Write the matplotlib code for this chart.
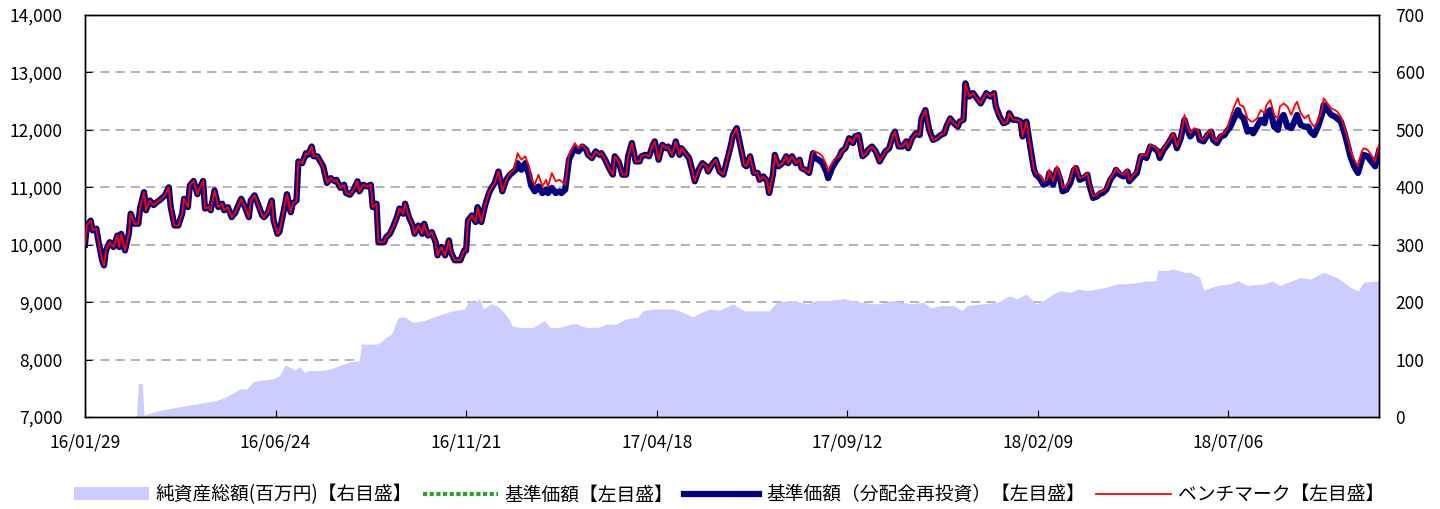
import matplotlib
matplotlib.use('Agg')
import matplotlib.pyplot as plt
from matplotlib.patches import Patch
from matplotlib.lines import Line2D

plt.rcParams['font.family'] = ['Noto Sans CJK JP', 'DejaVu Sans']

# business-day index of each sampled point
days = [
    0, 1, 3, 4, 6, 7, 9, 10, 11, 13,
    15, 17, 18, 19, 21, 23, 24, 26, 28, 29,
    31, 32, 34, 36, 38, 39, 42, 44, 45, 47,
    49, 51, 52, 54, 55, 57, 59, 60, 62, 63,
    65, 66, 68, 70, 72, 73, 75, 77, 79, 80,
    82, 84, 86, 87, 89, 91, 93, 94, 96, 98,
    99, 101, 102, 104, 106, 108, 109, 111, 112, 114,
    116, 117, 119, 120, 122, 123, 125, 127, 129, 131,
    132, 134, 136, 137, 139, 141, 143, 144, 146, 148,
    150, 151, 153, 154, 157, 158, 160, 162, 164, 165,
    167, 168, 170, 172, 173, 175, 177, 178, 180, 182,
    184, 185, 187, 189, 191, 192, 194, 197, 199, 200,
    201, 203, 205, 206, 208, 210, 212, 213, 215, 217,
    219, 221, 223, 225, 226, 227, 229, 231, 233, 234,
    236, 238, 240, 242, 243, 245, 247, 249, 250, 252,
    254, 256, 257, 259, 261, 263, 264, 266, 268, 270,
    271, 273, 275, 277, 278, 280, 282, 284, 285, 287,
    289, 291, 292, 294, 296, 298, 299, 301, 303, 305,
    306, 308, 310, 312, 313, 315, 317, 319, 320, 322,
    324, 326, 327, 329, 331, 333, 335, 337, 339, 340,
    342, 344, 346, 347, 349, 351, 353, 354, 356, 358,
    359, 361, 362, 364, 366, 368, 369, 371, 373, 375,
    376, 378, 380, 382, 383, 385, 387, 389, 390, 392,
    394, 396, 397, 399, 401, 403, 404, 406, 408, 410,
    411, 413, 415, 417, 418, 420, 422, 424, 425, 427,
    429, 431, 432, 434, 436, 438, 439, 441, 443, 445,
    447, 449, 451, 452, 454, 456, 458, 459, 461, 462,
    464, 466, 468, 470, 471, 473, 475, 477, 478, 480,
    482, 484, 485, 487, 489, 491, 492, 494, 496, 498,
    499, 501, 503, 505, 506, 508, 510, 512, 513, 515,
    517, 519, 520, 522, 524, 526, 527, 529, 531, 533,
    534, 536, 538, 540, 541, 543, 545, 547, 548, 550,
    552, 554, 556, 557, 559, 561, 563, 564, 566, 568,
    570, 571, 573, 575, 577, 578, 580, 582, 584, 585,
    587, 589, 591, 592, 594, 596, 598, 599, 601, 603,
    605, 606, 608, 610, 612, 613, 615, 617, 619, 620,
    622, 624, 626, 627, 629, 631, 633, 635, 636, 638,
    640, 642, 643, 645, 647, 649, 650, 652, 654, 656,
    657, 659, 661, 663, 664, 666, 668, 670, 671, 673,
    675, 677, 679,
]

# 基準価額（分配金再投資）
nav_reinv = [
    10000, 10335, 10420, 10250, 10280, 10075, 9730, 9640, 9900, 10045,
    9960, 10160, 9960, 10190, 9900, 10190, 10540, 10365, 10365, 10655,
    10915, 10600, 10770, 10690, 10750, 10770, 10860, 11000, 10655, 10335,
    10335, 10540, 10800, 10655, 11030, 11110, 10880, 10970, 11110, 10630,
    10655, 10600, 10945, 10655, 10715, 10600, 10655, 10480, 10565, 10655,
    10800, 10655, 10480, 10770, 10860, 10690, 10510, 10480, 10565, 10770,
    10420, 10190, 10220, 10540, 10880, 10565, 10715, 10770, 11450, 11420,
    11595, 11565, 11710, 11540, 11540, 11480, 11365, 11075, 11160, 11105,
    11130, 10990, 11045, 10900, 10870, 10960, 11105, 10930, 11045, 11015,
    11045, 10655, 10715, 10045, 10045, 10130, 10190, 10335, 10510, 10630,
    10540, 10715, 10480, 10335, 10190, 10335, 10190, 10365, 10160, 10220,
    10045, 9815, 9960, 9815, 10075, 9875, 9730, 9730, 9900, 9900,
    10420, 10510, 10395, 10655, 10395, 10690, 10900, 10970, 11075, 11275,
    10930, 11130, 11220, 11275, 11305, 11420, 11305, 11420, 11220, 11045,
    10930, 11015, 10900, 10960, 10900, 10990, 10900, 10930, 10900, 10960,
    11480, 11625, 11680, 11625, 11710, 11655, 11565, 11510, 11625, 11565,
    11595, 11480, 11335, 11220, 11540, 11450, 11220, 11220, 11540, 11770,
    11450, 11450, 11540, 11565, 11540, 11740, 11800, 11480, 11740, 11680,
    11710, 11565, 11800, 11565, 11680, 11595, 11510, 11250, 11105, 11305,
    11420, 11365, 11275, 11395, 11480, 11275, 11220, 11480, 11740, 11910,
    12030, 11710, 11395, 11365, 11540, 11250, 11250, 11130, 11190, 11105,
    10900, 11220, 11565, 11365, 11420, 11540, 11420, 11540, 11420, 11480,
    11335, 11305, 11250, 11595, 11510, 11480, 11420, 11275, 11160, 11335,
    11450, 11540, 11625, 11680, 11855, 11770, 11885, 11910, 11540, 11595,
    11655, 11710, 11625, 11450, 11510, 11625, 11680, 11910, 11970, 11710,
    11710, 11800, 11680, 11855, 11940, 11910, 12200, 12345, 12000, 11825,
    11855, 11910, 11940, 12055, 12200, 12115, 12055, 12145, 12175, 12810,
    12580, 12640, 12550, 12460, 12520, 12640, 12580, 12640, 12405, 12230,
    12115, 12145, 12290, 12175, 12175, 12145, 11885, 12145, 11710, 11305,
    11220, 11160, 11045, 11075, 11250, 11045, 11305, 11105, 10930, 10960,
    11075, 11305, 11335, 11130, 11160, 11220, 11045, 10815, 10840, 10900,
    10900, 10960, 11130, 11220, 11305, 11220, 11190, 11275, 11105, 11180,
    11250, 11540, 11540, 11510, 11710, 11680, 11625, 11510, 11655, 11740,
    11855, 11910, 11680, 11855, 12175, 12055, 11885, 11970, 11970, 11825,
    11800, 11910, 11970, 11825, 11770, 11885, 11910, 11970, 12055, 12200,
    12345, 12260, 12200, 11970, 12000, 11940, 12055, 12175, 12115, 12290,
    12345, 12055, 12000, 12175, 12260, 12055, 12030, 12175, 12260, 12085,
    12055, 12055, 11970, 11910, 12055, 12260, 12435, 12345, 12260, 12230,
    12200, 12145, 11940, 11680, 11540, 11365, 11250, 11480, 11565, 11540,
    11450, 11365, 11625,
]

# 基準価額 (no distributions paid, so it matches the reinvested series)
nav = list(nav_reinv)

# ベンチマーク
benchmark = [
    10000, 10335, 10420, 10250, 10280, 10075, 9730, 9640, 9900, 10045,
    9960, 10160, 9960, 10190, 9900, 10190, 10540, 10365, 10365, 10655,
    10915, 10600, 10770, 10690, 10750, 10770, 10860, 11000, 10655, 10335,
    10335, 10540, 10800, 10655, 11030, 11110, 10880, 10970, 11110, 10630,
    10655, 10600, 10945, 10655, 10715, 10600, 10655, 10480, 10565, 10655,
    10800, 10655, 10480, 10770, 10860, 10690, 10510, 10480, 10565, 10770,
    10420, 10190, 10220, 10540, 10880, 10565, 10715, 10770, 11450, 11420,
    11595, 11565, 11710, 11540, 11540, 11480, 11365, 11075, 11160, 11105,
    11130, 10990, 11045, 10900, 10870, 10960, 11105, 10930, 11045, 11015,
    11045, 10655, 10715, 10045, 10045, 10130, 10190, 10335, 10510, 10630,
    10540, 10715, 10480, 10335, 10190, 10335, 10190, 10365, 10160, 10220,
    10045, 9815, 9960, 9815, 10075, 9875, 9730, 9730, 9900, 9900,
    10420, 10510, 10395, 10655, 10395, 10690, 10900, 10970, 11075, 11275,
    10930, 11130, 11250, 11300, 11420, 11595, 11480, 11540, 11365, 11160,
    11045, 11220, 11015, 11130, 11015, 11250, 11105, 11130, 11105, 11045,
    11565, 11680, 11770, 11680, 11740, 11655, 11565, 11510, 11625, 11565,
    11595, 11480, 11335, 11220, 11540, 11450, 11220, 11220, 11540, 11770,
    11450, 11450, 11540, 11565, 11540, 11740, 11800, 11480, 11740, 11680,
    11710, 11565, 11800, 11565, 11680, 11595, 11510, 11250, 11105, 11305,
    11420, 11365, 11275, 11395, 11480, 11275, 11220, 11480, 11740, 11910,
    12030, 11710, 11395, 11365, 11540, 11250, 11250, 11130, 11190, 11105,
    10900, 11220, 11565, 11365, 11420, 11540, 11420, 11540, 11420, 11480,
    11335, 11305, 11250, 11625, 11625, 11595, 11540, 11395, 11275, 11420,
    11510, 11540, 11625, 11680, 11855, 11770, 11885, 11910, 11540, 11595,
    11655, 11710, 11625, 11450, 11510, 11625, 11680, 11910, 11970, 11710,
    11710, 11800, 11680, 11855, 11940, 11910, 12200, 12345, 12000, 11825,
    11855, 11910, 11940, 12055, 12200, 12115, 12055, 12145, 12175, 12810,
    12580, 12640, 12550, 12460, 12520, 12640, 12580, 12640, 12405, 12230,
    12115, 12145, 12290, 12175, 12175, 12145, 11885, 12145, 11710, 11305,
    11250, 11220, 11105, 11130, 11305, 11105, 11365, 11160, 10990, 11015,
    11130, 11365, 11365, 11160, 11190, 11250, 11075, 10845, 10870, 10930,
    10930, 10990, 11160, 11250, 11335, 11250, 11220, 11305, 11130, 11210,
    11280, 11565, 11565, 11540, 11740, 11710, 11655, 11540, 11680, 11770,
    11885, 11940, 11710, 11885, 12260, 12115, 11940, 12030, 12000, 11855,
    11830, 11940, 12000, 11855, 11800, 11915, 11940, 12000, 12200, 12405,
    12550, 12435, 12405, 12200, 12145, 12145, 12200, 12345, 12290, 12435,
    12520, 12260, 12200, 12405, 12460, 12405, 12260, 12435, 12490, 12290,
    12200, 12260, 12145, 12055, 12145, 12345, 12550, 12460, 12375, 12345,
    12320, 12230, 12030, 11800, 11655, 11480, 11365, 11625, 11680, 11655,
    11565, 11450, 11740,
]

# 純資産総額（百万円）
aum_days = [
    0, 24, 27, 28, 30, 31, 36, 43, 48, 53,
    59, 64, 69, 74, 80, 81, 85, 88, 92, 95,
    99, 102, 105, 108, 110, 113, 115, 118, 122, 125,
    129, 134, 139, 144, 145, 150, 153, 155, 158, 161,
    164, 165, 168, 172, 178, 183, 188, 193, 199, 202,
    205, 207, 209, 213, 216, 220, 223, 224, 228, 232,
    235, 241, 244, 249, 255, 258, 263, 269, 274, 279,
    284, 290, 293, 298, 304, 309, 314, 319, 323, 328,
    333, 340, 346, 353, 359, 363, 372, 379, 384, 391,
    398, 407, 416, 424, 433, 440, 444, 449, 456, 460,
    463, 470, 479, 485, 489, 494, 499, 503, 508, 512,
    517, 521, 526, 531, 536, 542, 547, 554, 556, 562,
    563, 568, 571, 577, 580, 585, 587, 594, 601, 605,
    610, 619, 623, 627, 633, 638, 643, 650, 657, 664,
    668, 671, 679,
]
aum = [
    0, 0, 1, 58, 58, 3, 9, 14, 17, 20,
    23, 26, 29, 35, 46, 49, 49, 61, 64, 65,
    67, 72, 90, 86, 82, 88, 78, 81, 81, 81,
    84, 90, 96, 98, 127, 127, 127, 130, 139, 145,
    171, 174, 174, 165, 168, 174, 180, 185, 188, 203,
    200, 206, 188, 197, 194, 182, 168, 159, 156, 156,
    156, 168, 156, 156, 162, 162, 156, 156, 162, 162,
    171, 174, 185, 188, 188, 188, 182, 174, 182, 188,
    186, 197, 185, 185, 185, 200, 203, 197, 203, 203,
    206, 200, 197, 203, 197, 200, 190, 194, 194, 185,
    194, 197, 200, 211, 206, 214, 197, 203, 214, 220,
    217, 223, 220, 223, 226, 232, 232, 235, 237, 237,
    256, 255, 258, 252, 252, 243, 221, 229, 232, 237,
    229, 232, 237, 229, 237, 243, 240, 252, 243, 226,
    220, 235, 237,
]

tick_days = [0, 100, 200, 300, 400, 500, 600]
tick_labels = ['16/01/29', '16/06/24', '16/11/21', '17/04/18',
               '17/09/12', '18/02/09', '18/07/06']

labels = ['純資産総額(百万円)【右目盛】', '基準価額【左目盛】',
          '基準価額（分配金再投資）【左目盛】', 'ベンチマーク【左目盛】']

area_color = '#CCCCFF'
green = '#2EA02E'
navy = '#000080'
red = '#FF0000'

fig, ax = plt.subplots(figsize=(14.4, 5.09), dpi=100)
fig.subplots_adjust(left=0.059, right=0.9576, top=0.9705, bottom=0.1807)
ax2 = ax.twinx()

# net assets area on the right axis, behind everything
ax2.fill_between(aum_days, aum, 0, color=area_color, linewidth=0)
ax2.set_ylim(0, 700)
ax2.set_yticks(range(0, 701, 100))
ax2.set_axisbelow(True)
ax2.yaxis.grid(True, color='#A0A0A0', linestyle=(0, (6, 4)), linewidth=1.1)
# no dashed line on top of the frame at 0 and 700
ticks2 = ax2.yaxis.get_major_ticks()
ticks2[0].gridline.set_visible(False)
ticks2[-1].gridline.set_visible(False)

# price lines on the left axis, drawn on top of the area
ax.set_zorder(ax2.get_zorder() + 1)
ax.patch.set_visible(False)
ax.plot(days, nav, color=green, linewidth=3.0, zorder=2)
ax.plot(days, nav_reinv, color=navy, linewidth=4.5, zorder=3)
ax.plot(days, benchmark, color=red, linewidth=1.3, zorder=4)

ax.set_ylim(7000, 14000)
ax.set_yticks(range(7000, 14001, 1000))
ax.yaxis.set_major_formatter(matplotlib.ticker.FuncFormatter(lambda v, p: f'{int(v):,}'))
ax.set_xlim(0, 679)
ax.set_xticks(tick_days)
ax.set_xticklabels(tick_labels)

for a in (ax, ax2):
    for s in a.spines.values():
        s.set_color('black')
        s.set_linewidth(1.0)
ax.tick_params(axis='y', direction='in', length=5, pad=16, labelsize=12.5)
ax.tick_params(axis='x', direction='in', length=5, pad=12, labelsize=12.5)
ax2.tick_params(axis='y', direction='in', length=5, pad=12, labelsize=12.5)

handles = [
    Patch(facecolor=area_color, edgecolor='none'),
    Line2D([], [], color=green, linewidth=3.0, linestyle=(0, (1, 0.6))),
    Line2D([], [], color=navy, linewidth=4.5),
    Line2D([], [], color=red, linewidth=1.3),
]
fig.legend(handles, labels, loc='center', bbox_to_anchor=(0.506, 0.028), ncol=4,
           frameon=False, fontsize=13.5, handlelength=4.0, handletextpad=0.35,
           columnspacing=0.6)

plt.savefig('out.png', dpi=100)
plt.close()
